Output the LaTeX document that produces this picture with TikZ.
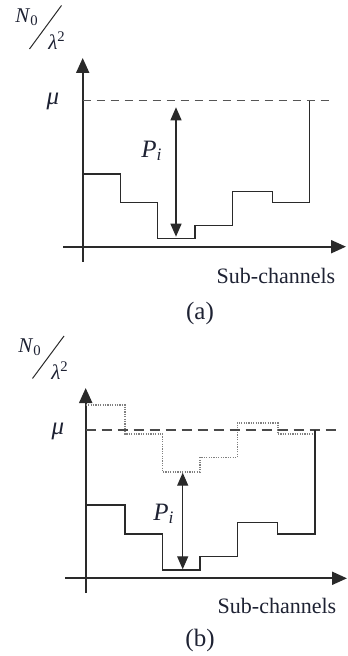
\documentclass[tikz,border=0pt]{standalone}
\usepackage{amsmath}
\usepackage{fontspec}
\setmainfont{Liberation Serif}
\usetikzlibrary{arrows.meta}
\definecolor{ink}{HTML}{2A2A2A}
\definecolor{txt}{HTML}{1E2233}
\tikzset{
  axis/.style={line width=1pt, draw=ink, -{Triangle[width=6.5pt,length=7.5pt]}},
  stair/.style={line width=0.6pt, draw=ink},
  dotstair/.style={line width=0.8pt, draw=gray, dash pattern=on 0.6pt off 0.6pt},
  muline/.style={draw=ink!80, line width=0.5pt, dash pattern=on 4pt off 3pt},
  muthick/.style={draw=ink!85, line width=1.4pt, dash pattern=on 5pt off 3pt},
  parrow/.style={line width=0.65pt, draw=ink, {Triangle[width=5.5pt,length=6.5pt]}-{Triangle[width=5.5pt,length=6.5pt]}},
  lbl/.style={text=txt, inner sep=0pt, font=\fontsize{11}{13}\selectfont},
  mlbl/.style={text=txt, inner sep=0pt, font=\fontsize{12.5}{14}\selectfont},
  ylbl/.style={text=txt, inner sep=0pt, font=\fontsize{10.5}{12}\selectfont},
}
\newcommand{\Pilabel}{\textit{P}$_{\textit{i}}$}
\begin{document}
\begin{tikzpicture}[x=0.5pt,y=-0.5pt]
\useasboundingbox (0,0) rectangle (347,656);
% ---------------- panel (a) ----------------
\coordinate (ya0) at (82.7,262);
\coordinate (ya1) at (82.7,58);
\coordinate (xa0) at (63,246.7);
\coordinate (xa1) at (346,246.7);
\draw[axis] (ya0) -- (ya1);
\draw[axis] (xa0) -- (xa1);
\coordinate (mua0) at (82.7,100.7);
\coordinate (mua1) at (330,100.7);
\draw[muline] (mua0) -- (mua1);
\node[mlbl] (mua) at (53,101) {\textit{μ}};
\node[ylbl] (Na) at (27,17) {\textit{N}$_{\text{0}}$};
\node[ylbl] (La) at (57,41) {\textit{λ}$^{\text{2}}$};
\coordinate (sa0) at (29.5,49);
\coordinate (sa1) at (61.5,5.5);
\draw[line width=0.5pt, draw=ink] (sa0) -- (sa1);
\draw[stair] (82.7,174) -- (120.7,174) -- (120.7,202.3) -- (157.3,202.3) -- (157.3,238.3)
  -- (195,238.3) -- (195,225.3) -- (232.3,225.3) -- (232.3,191.7) -- (272.7,191.7)
  -- (272.7,202.3) -- (309.3,202.3) -- (309.3,100.7);
\coordinate (pa0) at (176,107.3);
\coordinate (pa1) at (176,236.7);
\draw[parrow] (pa0) -- (pa1);
\node[mlbl] (Pa) at (152,151) {\Pilabel};
\node[lbl] (sca) at (276,276) {Sub-channels};
\node[mlbl] (capa) at (200,313) {(a)};
% ---------------- panel (b) ----------------
\coordinate (yb0) at (85.7,593);
\coordinate (yb1) at (85.7,388);
\coordinate (xb0) at (65,578.3);
\coordinate (xb1) at (347,578.3);
\draw[axis] (yb0) -- (yb1);
\draw[axis] (xb0) -- (xb1);
\draw[dotstair] (85.7,405) -- (125,405) -- (125,434) -- (162.3,434) -- (162.3,471.7)
  -- (200,471.7) -- (200,457.3) -- (237.3,457.3) -- (237.3,422.7) -- (277.7,422.7)
  -- (277.7,434) -- (313,434);
\coordinate (mub0) at (85.7,430);
\coordinate (mub1) at (338,430);
\draw[muthick] (mub0) -- (mub1);
\node[mlbl] (mub) at (58,431) {\textit{μ}};
\node[ylbl] (Nb) at (30,347) {\textit{N}$_{\text{0}}$};
\node[ylbl] (Lb) at (60,371) {\textit{λ}$^{\text{2}}$};
\coordinate (sb0) at (32.5,378.5);
\coordinate (sb1) at (64,336);
\draw[line width=0.5pt, draw=ink] (sb0) -- (sb1);
\draw[stair] (85.7,505) -- (125,505) -- (125,534) -- (162.3,534) -- (162.3,570)
  -- (200,570) -- (200,556.7) -- (237.3,556.7) -- (237.3,522.7) -- (277.7,522.7)
  -- (277.7,534) -- (315,534) -- (315,430);
\coordinate (pb0) at (182.7,472.7);
\coordinate (pb1) at (182.7,569.3);
\draw[parrow] (pb0) -- (pb1);
\node[mlbl] (Pb) at (164,514) {\Pilabel};
\node[lbl] (scb) at (277,606) {Sub-channels};
\node[mlbl] (capb) at (200,640) {(b)};
\end{tikzpicture}
\end{document}
